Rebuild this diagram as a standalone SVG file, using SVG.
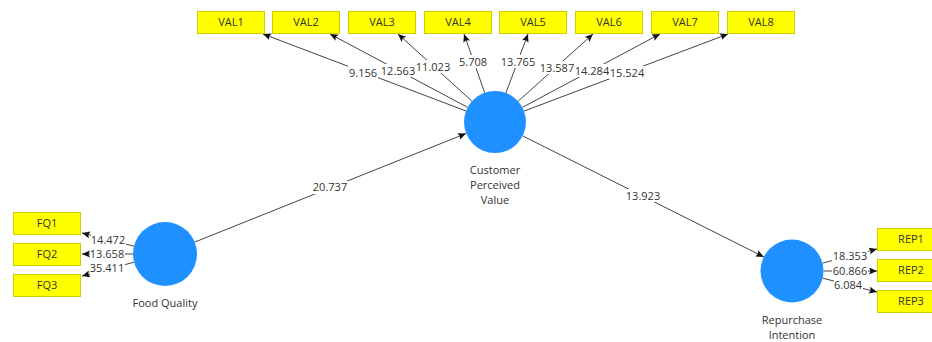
<svg xmlns="http://www.w3.org/2000/svg" width="932" height="342" viewBox="0 0 932 342">
<style>
  text { font-family: "Open Sans", "Noto Sans", "DejaVu Sans", sans-serif; font-size: 11px; fill: #333333; text-anchor: middle; }
  .box { fill: #FFFF00; stroke: #CFCF00; stroke-width: 1; }
  .lv { fill: #1E90FF; }
  .ln { stroke: #444444; stroke-width: 1; fill: none; marker-end: url(#arr); }
  .bg { fill: #FFFFFF; }
</style>
<defs>
  <marker id="arr" markerUnits="userSpaceOnUse" markerWidth="9" markerHeight="8" refX="8" refY="3.5" orient="auto">
    <path d="M0,0 L8,3.5 L0,7 L1.5,3.5 z" fill="#111111"/>
  </marker>
</defs>
<rect width="932" height="342" fill="#FFFFFF"/>

<g id="connectors">
  <line class="ln" x1="466.0" y1="111.0" x2="263" y2="34"/>
  <line class="ln" x1="467.7" y1="107.4" x2="330" y2="34"/>
  <line class="ln" x1="472.0" y1="101.2" x2="398" y2="34"/>
  <line class="ln" x1="484.7" y1="92.8" x2="464" y2="34"/>
  <line class="ln" x1="505.9" y1="93.0" x2="528" y2="34"/>
  <line class="ln" x1="518.1" y1="101.3" x2="593" y2="34"/>
  <line class="ln" x1="522.3" y1="107.4" x2="660" y2="34"/>
  <line class="ln" x1="524.0" y1="111.1" x2="728" y2="34"/>
  <line class="ln" x1="134.0" y1="246.2" x2="82" y2="233"/>
  <line class="ln" x1="133.0" y1="254" x2="82" y2="254"/>
  <line class="ln" x1="134.1" y1="262.2" x2="82" y2="276"/>
  <line class="ln" x1="822.5" y1="263.1" x2="877" y2="249"/>
  <line class="ln" x1="823.5" y1="271" x2="877" y2="271"/>
  <line class="ln" x1="822.7" y1="278.2" x2="877" y2="292"/>
  <line class="ln" x1="194.7" y1="242.1" x2="466" y2="133.5"/>
  <line class="ln" x1="522.7" y1="135.9" x2="763.8" y2="256.9"/>

  <rect class="bg" x="348" y="66" width="30" height="13"/><text x="363" y="77">9.156</text>
  <rect class="bg" x="380" y="64" width="36" height="13"/><text x="398" y="75">12.563</text>
  <rect class="bg" x="416" y="60" width="35" height="13"/><text x="433" y="71">11.023</text>
  <rect class="bg" x="459" y="55" width="29" height="13"/><text x="473" y="66">5.708</text>
  <rect class="bg" x="500" y="55" width="36" height="13"/><text x="518" y="66">13.765</text>
  <rect class="bg" x="539" y="61" width="36" height="13"/><text x="557" y="72">13.587</text>
  <rect class="bg" x="574" y="64" width="36" height="13"/><text x="592" y="75">14.284</text>
  <rect class="bg" x="609" y="66" width="36" height="13"/><text x="627" y="77">15.524</text>
  <rect class="bg" x="91" y="233" width="35" height="13"/><text x="108" y="244">14.472</text>
  <rect class="bg" x="90" y="248" width="35" height="13"/><text x="107" y="258">13.658</text>
  <rect class="bg" x="90" y="262" width="35" height="13"/><text x="107" y="272">35.411</text>
  <rect class="bg" x="832" y="249" width="36" height="13"/><text x="850" y="260">18.353</text>
  <rect class="bg" x="832" y="265" width="36" height="13"/><text x="850" y="275">60.866</text>
  <rect class="bg" x="834" y="278" width="29" height="13"/><text x="848" y="289">6.084</text>
  <rect class="bg" x="312" y="181" width="36" height="13"/><text x="330" y="191">20.737</text>
  <rect class="bg" x="625" y="189" width="36" height="13"/><text x="643" y="200">13.923</text>
</g>

<g id="CPV">
  <circle class="lv" cx="495" cy="122" r="31"/>
  <text x="495" y="174">Customer</text>
  <text x="495" y="189">Perceived</text>
  <text x="495" y="204">Value</text>
</g>
<g id="FQ">
  <circle class="lv" cx="165" cy="254" r="32"/>
  <text x="165" y="307">Food Quality</text>
</g>
<g id="REP">
  <circle class="lv" cx="792" cy="271" r="31.5"/>
  <text x="792" y="324">Repurchase</text>
  <text x="792" y="339">Intention</text>
</g>

<g id="VAL1"><rect class="box" x="197.5" y="11.5" width="67" height="22"/><text x="231" y="26">VAL1</text></g>
<g id="VAL2"><rect class="box" x="272.5" y="11.5" width="67" height="22"/><text x="306" y="26">VAL2</text></g>
<g id="VAL3"><rect class="box" x="348.5" y="11.5" width="67" height="22"/><text x="382" y="26">VAL3</text></g>
<g id="VAL4"><rect class="box" x="424.5" y="11.5" width="67" height="22"/><text x="458" y="26">VAL4</text></g>
<g id="VAL5"><rect class="box" x="499.5" y="11.5" width="67" height="22"/><text x="533" y="26">VAL5</text></g>
<g id="VAL6"><rect class="box" x="575.5" y="11.5" width="67" height="22"/><text x="609" y="26">VAL6</text></g>
<g id="VAL7"><rect class="box" x="651.5" y="11.5" width="67" height="22"/><text x="685" y="26">VAL7</text></g>
<g id="VAL8"><rect class="box" x="727.5" y="11.5" width="67" height="22"/><text x="761" y="26">VAL8</text></g>

<g id="FQ1"><rect class="box" x="13.5" y="212.5" width="67" height="22"/><text x="47" y="227">FQ1</text></g>
<g id="FQ2"><rect class="box" x="13.5" y="243.5" width="67" height="22"/><text x="47" y="258">FQ2</text></g>
<g id="FQ3"><rect class="box" x="13.5" y="274.5" width="67" height="22"/><text x="47" y="289">FQ3</text></g>

<g id="REP1"><rect class="box" x="877.5" y="228.5" width="67" height="22"/><text x="911" y="243">REP1</text></g>
<g id="REP2"><rect class="box" x="877.5" y="259.5" width="67" height="22"/><text x="911" y="274">REP2</text></g>
<g id="REP3"><rect class="box" x="877.5" y="290.5" width="67" height="22"/><text x="911" y="305">REP3</text></g>
</svg>
